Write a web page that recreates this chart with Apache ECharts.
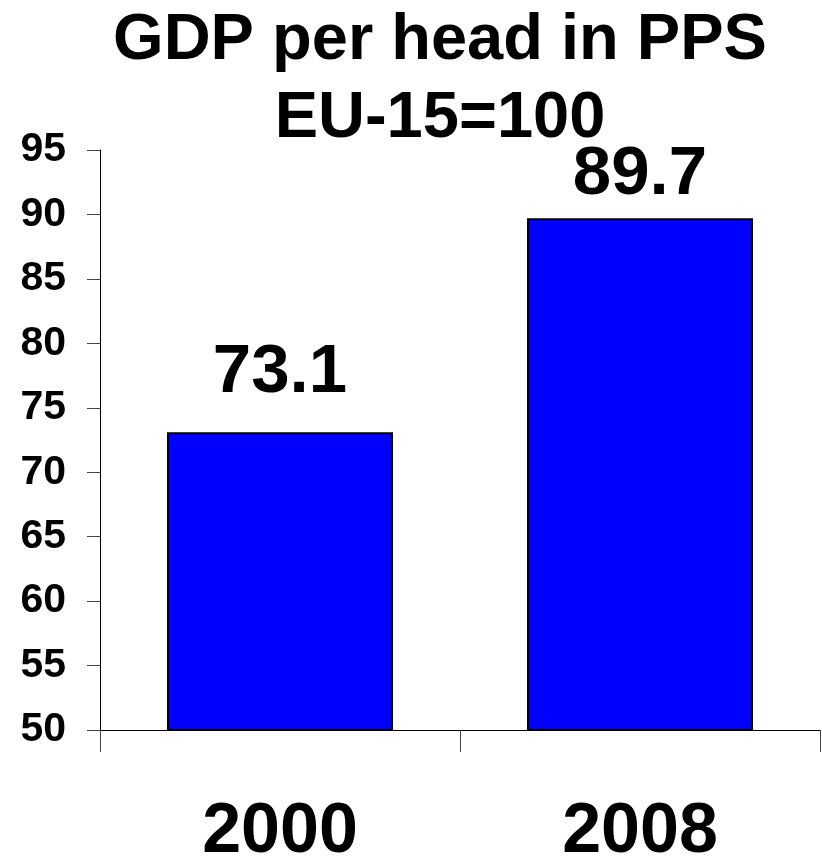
<!DOCTYPE html>
<html>
<head>
<meta charset="utf-8">
<script src="https://cdn.jsdelivr.net/npm/echarts@6/dist/echarts.min.js"></script>
<style>html,body{margin:0;padding:0;background:#fff;}#c{width:822px;height:858px;}</style>
</head>
<body>
<div id="c"></div>
<script>
var categories = ['2000', '2008'];
var values = [73.1, 89.7];
var titleLines = ['GDP per head in PPS', 'EU-15=100'];
var yMin = 50, yMax = 95, yStep = 5;

var FONT = '"Liberation Sans", Arial, sans-serif';
var labelDistances = [25, 9];

var chart = echarts.init(document.getElementById('c'), null, {renderer: 'canvas'});
chart.setOption({
  animation: false,
  backgroundColor: '#ffffff',
  title: {
    text: titleLines.join('\n'),
    left: 440,
    top: 2,
    padding: 0,
    textAlign: 'center',
    textStyle: {fontFamily: FONT, fontWeight: 'bold', fontSize: 65, lineHeight: 78, color: '#000'}
  },
  grid: {left: 100, right: 2, top: 150, bottom: 128, containLabel: false, outerBoundsMode: 'none'},
  xAxis: {
    type: 'category',
    data: categories,
    axisLine: {lineStyle: {color: '#000', width: 1}},
    axisTick: {show: true, length: 22, lineStyle: {color: '#444'}},
    axisLabel: {margin: 68, fontFamily: FONT, fontWeight: 'bold', fontSize: 70, color: '#000'}
  },
  yAxis: {
    type: 'value',
    min: yMin, max: yMax, interval: yStep,
    splitLine: {show: false},
    axisLine: {show: true, lineStyle: {color: '#000', width: 1}},
    axisTick: {show: true, length: 13, lineStyle: {color: '#444'}},
    axisLabel: {margin: 34, fontFamily: FONT, fontWeight: 'bold', fontSize: 41, color: '#000'}
  },
  series: [{
    type: 'bar',
    barWidth: 226,
    data: values.map(function (v, i) {
      return {value: v, label: {distance: labelDistances[i]}};
    }),
    itemStyle: {color: '#0000ff', borderColor: '#000', borderWidth: 2},
    label: {
      show: true, position: 'top',
      fontFamily: FONT, fontWeight: 'bold', fontSize: 69, color: '#000',
      formatter: function (p) { return p.value.toFixed(1); }
    }
  }]
});
</script>
</body>
</html>
